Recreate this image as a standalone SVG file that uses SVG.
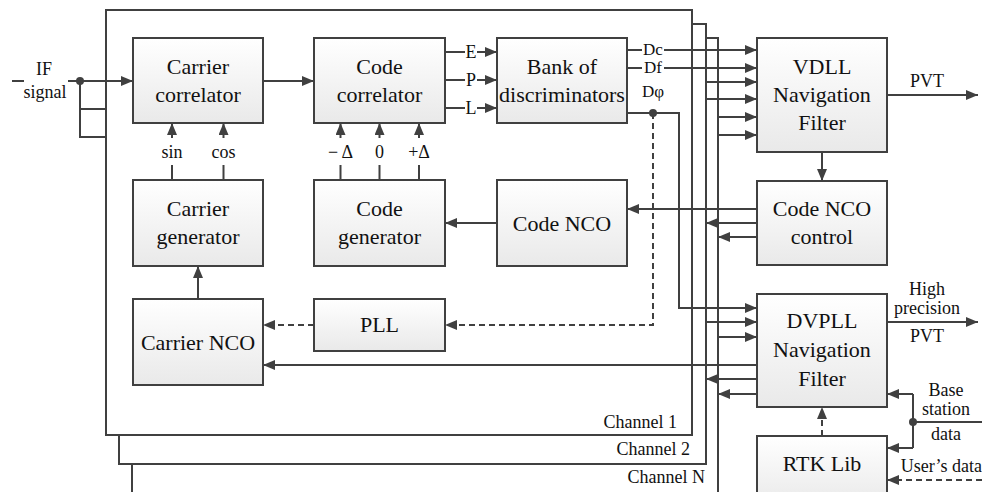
<svg xmlns="http://www.w3.org/2000/svg" width="982" height="492" viewBox="0 0 982 492" font-family="'Liberation Serif', 'Times New Roman', 'DejaVu Serif', serif">
<defs>
<linearGradient id="g" x1="0" y1="0" x2="0" y2="1">
<stop offset="0" stop-color="#ffffff"/>
<stop offset="1" stop-color="#e9e9e9"/>
</linearGradient>
<marker id="a" viewBox="0 0 12 10" refX="12" refY="5" markerWidth="12" markerHeight="10" markerUnits="userSpaceOnUse" orient="auto">
<path d="M0,0 L12,5 L0,10 z" fill="#404040"/>
</marker>
</defs>
<style>
.box{fill:url(#g);stroke:#404040;stroke-width:2}
.frame{fill:#fff;stroke:#404040;stroke-width:2}
.ln{fill:none;stroke:#404040;stroke-width:2}
.ar{marker-end:url(#a)}
.dash{stroke-dasharray:6 4}
.dot{fill:#404040}
text{font-family:'Liberation Serif','Times New Roman','DejaVu Serif',serif;fill:#111}
.t22{font-size:22px;text-anchor:middle}
.t18{font-size:18px;text-anchor:middle}
.t17{font-size:17px;text-anchor:middle}
.end{font-size:18px;text-anchor:end}
</style>

<g id="channels">
<rect class="frame" x="132" y="38" width="586" height="470"/>
<rect class="frame" x="119" y="24" width="587" height="440"/>
<rect class="frame" x="106" y="10" width="586" height="425"/>
<text class="end" x="677" y="428">Channel 1</text>
<text class="end" x="690" y="455">Channel 2</text>
<text class="end" x="705" y="483">Channel N</text>
</g>

<g id="carrier-correlator">
<rect class="box" x="133" y="38" width="130" height="85"/>
<text class="t22" x="198" y="74">Carrier</text>
<text class="t22" x="198" y="102">correlator</text>
</g>
<g id="code-correlator">
<rect class="box" x="314" y="38" width="131" height="85"/>
<text class="t22" x="379.5" y="74">Code</text>
<text class="t22" x="379.5" y="102">correlator</text>
</g>
<g id="bank-of-discriminators">
<rect class="box" x="497" y="38" width="130" height="85"/>
<text class="t22" x="562" y="74">Bank of</text>
<text class="t22" x="562" y="102">discriminators</text>
</g>
<g id="carrier-generator">
<rect class="box" x="133" y="180" width="130" height="86"/>
<text class="t22" x="198" y="216">Carrier</text>
<text class="t22" x="198" y="244">generator</text>
</g>
<g id="code-generator">
<rect class="box" x="314" y="180" width="131" height="86"/>
<text class="t22" x="379.5" y="216">Code</text>
<text class="t22" x="379.5" y="244">generator</text>
</g>
<g id="code-nco">
<rect class="box" x="497" y="180" width="130" height="86"/>
<text class="t22" x="562" y="230.5">Code NCO</text>
</g>
<g id="carrier-nco">
<rect class="box" x="133" y="299" width="130" height="86"/>
<text class="t22" x="198" y="350">Carrier NCO</text>
</g>
<g id="pll">
<rect class="box" x="314" y="299" width="131" height="52"/>
<text class="t22" x="379.5" y="332">PLL</text>
</g>
<g id="vdll-navigation-filter">
<rect class="box" x="757" y="38" width="130" height="114"/>
<text class="t22" x="822" y="74">VDLL</text>
<text class="t22" x="822" y="102">Navigation</text>
<text class="t22" x="822" y="130">Filter</text>
</g>
<g id="code-nco-control">
<rect class="box" x="757" y="181" width="130" height="84"/>
<text class="t22" x="822" y="216">Code NCO</text>
<text class="t22" x="822" y="244">control</text>
</g>
<g id="dvpll-navigation-filter">
<rect class="box" x="757" y="294" width="130" height="113"/>
<text class="t22" x="822" y="328">DVPLL</text>
<text class="t22" x="822" y="357">Navigation</text>
<text class="t22" x="822" y="386">Filter</text>
</g>
<g id="rtk-lib">
<rect class="box" x="757" y="436" width="130" height="70"/>
<text class="t22" x="822" y="471">RTK Lib</text>
</g>

<g id="connectors">
<path class="ln" d="M12,81 H24"/>
<path class="ln ar" d="M68,81 H133"/>
<path class="ln" d="M80,81 V137 H106 M80,109 H106"/>
<circle class="dot" cx="80" cy="81" r="4"/>
<text class="t18" x="44" y="75">IF</text>
<text class="t18" x="45" y="98">signal</text>
<path class="ln ar" d="M263,81 H314"/>
<path class="ln" d="M445,52 H465 M445,80 H465 M445,108 H465"/>
<path class="ln ar" d="M477,52 H497"/>
<path class="ln ar" d="M477,80 H497"/>
<path class="ln ar" d="M477,108 H497"/>
<text class="t18" x="471" y="58">E</text>
<text class="t18" x="471" y="86">P</text>
<text class="t18" x="471" y="114">L</text>
<path class="ln" d="M172,165 V180 M223.5,165 V180 M340.5,165 V180 M379.5,165 V180 M419,165 V180"/>
<path class="ln ar" d="M172,138 V123"/>
<path class="ln ar" d="M223.5,138 V123"/>
<path class="ln ar" d="M340.5,138 V123"/>
<path class="ln ar" d="M379.5,138 V123"/>
<path class="ln ar" d="M419,138 V123"/>
<text class="t18" x="172" y="158">sin</text>
<text class="t18" x="223.5" y="158">cos</text>
<text class="t18" x="340.5" y="158">− Δ</text>
<text class="t18" x="379.5" y="158">0</text>
<text class="t18" x="419" y="158">+Δ</text>
<path class="ln ar" d="M198,299 V266"/>
<path class="ln ar" d="M497,223 H445"/>
<path class="ln ar dash" d="M314,325 H263"/>
<path class="ln" d="M627,50 H642 M627,68 H642"/>
<path class="ln ar" d="M664,50 H757"/>
<path class="ln ar" d="M664,68 H757"/>
<text class="t17" x="653" y="55">Dc</text>
<text class="t17" x="653" y="73">Df</text>
<text class="t17" x="653" y="97">Dφ</text>
<path class="ln ar" d="M627,113 H679 V308 H757"/>
<path class="ln ar dash" d="M653,113 V325 H445"/>
<circle class="dot" cx="653" cy="113" r="4"/>
<path class="ln ar" d="M706,82 H757"/>
<path class="ln ar" d="M706,99 H757"/>
<path class="ln ar" d="M718,117 H757"/>
<path class="ln ar" d="M718,135 H757"/>
<path class="ln ar" d="M822,152 V181"/>
<path class="ln ar" d="M887,95 H978"/>
<text class="t18" x="927" y="87">PVT</text>
<path class="ln ar" d="M757,209 H627"/>
<path class="ln ar" d="M757,223 H706"/>
<path class="ln ar" d="M757,237 H718"/>
<path class="ln ar" d="M706,322 H757"/>
<path class="ln ar" d="M718,337 H757"/>
<path class="ln ar" d="M757,365 H263"/>
<path class="ln ar" d="M757,379 H706"/>
<path class="ln ar" d="M757,394 H718"/>
<path class="ln ar" d="M887,322 H978"/>
<text class="t18" x="927" y="295">High</text>
<text class="t18" x="927" y="314">precision</text>
<text class="t18" x="927" y="342">PVT</text>
<path class="ln" d="M982,422 H913 M913,394 V448"/>
<path class="ln ar" d="M913,394 H887"/>
<path class="ln ar" d="M913,448 H887"/>
<circle class="dot" cx="913" cy="422" r="4"/>
<text class="t18" x="946" y="396">Base</text>
<text class="t18" x="946" y="415">station</text>
<text class="t18" x="946" y="440">data</text>
<path class="ln ar dash" d="M822,436 V407"/>
<path class="ln ar dash" d="M982,480 H887"/>
<text class="end" x="982" y="472">User’s data</text>
</g>
</svg>
